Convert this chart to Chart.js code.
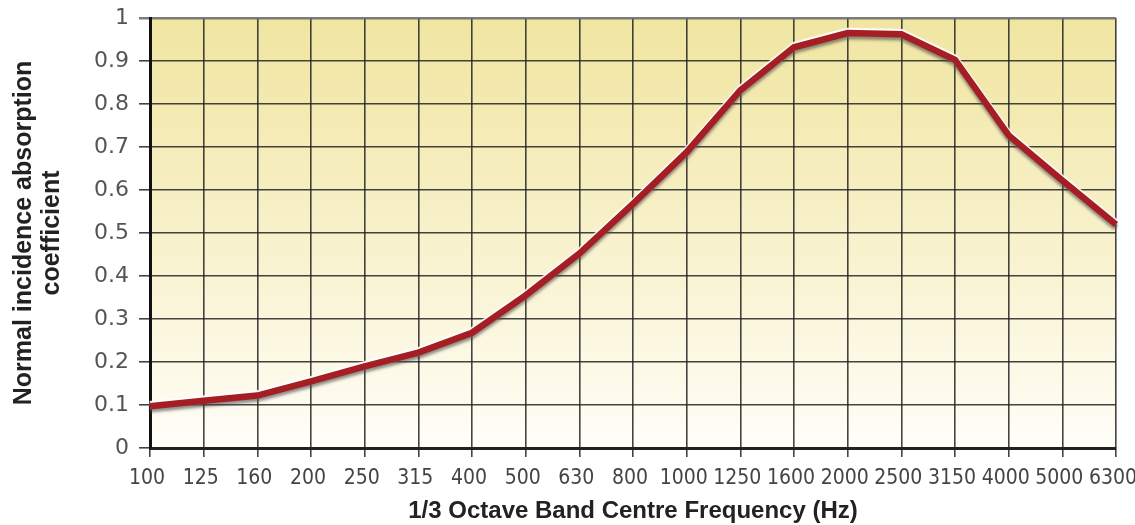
<!DOCTYPE html>
<html>
<head>
<meta charset="utf-8">
<title>Normal incidence absorption coefficient</title>
<script src="https://cdn.jsdelivr.net/npm/chart.js@4/dist/chart.umd.min.js"></script>
<style>
  html, body { margin: 0; padding: 0; background: #fff; }
  #wrap { width: 1135px; height: 525px; position: relative; }
</style>
</head>
<body>
<div id="wrap"><canvas id="absChart"></canvas></div>
<script>
// datos
const frequencies = ['100', '125', '160', '200', '250', '315', '400', '500', '630', '800',
    '1000', '1250', '1600', '2000', '2500', '3150', '4000', '5000', '6300'];
const absorption = [0.097, 0.11, 0.122, 0.155, 0.19, 0.222, 0.268, 0.355, 0.452, 0.568,
    0.688, 0.832, 0.932, 0.965, 0.962, 0.903, 0.727, 0.622, 0.52];
const yTicks = [0, 0.1, 0.2, 0.3, 0.4, 0.5, 0.6, 0.7, 0.8, 0.9, 1];

// fondo degradado amarillo del area de trazado
const plotBackground = {
    id: 'plotBackground',
    beforeDraw(chart) {
        const {ctx, chartArea: a} = chart;
        const g = ctx.createLinearGradient(0, a.top, 0, a.bottom);
        g.addColorStop(0, '#f0e5a0');
        g.addColorStop(0.5, '#f8f1ca');
        g.addColorStop(1, '#fffef8');
        ctx.save();
        ctx.fillStyle = g;
        ctx.fillRect(a.left, a.top, a.right - a.left, a.bottom - a.top);
        ctx.restore();
    }
};

// sombra gris debajo y brillo blanco encima de la curva
const lineShadow = {
    id: 'lineShadow',
    beforeDatasetDraw(chart, args) {
        const ctx = chart.ctx;
        ctx.save();
        if (args.index === 0) {
            ctx.shadowColor = 'rgba(70,70,70,0.6)';
            ctx.shadowOffsetY = 3;
            ctx.shadowBlur = 3;
        } else {
            ctx.shadowColor = 'rgba(255,255,255,1)';
            ctx.shadowOffsetY = -2;
            ctx.shadowBlur = 1;
        }
    },
    afterDatasetDraw(chart) {
        chart.ctx.restore();
    }
};

const ctx = document.getElementById('absChart').getContext('2d');
const absChart = new Chart(ctx, {
    type: 'line',
    data: {
        labels: frequencies,
        datasets: [{
            data: absorption,
            borderColor: '#a41e24',
            borderWidth: 6.5,
            pointRadius: 0,
            tension: 0,
            fill: false
        }, {
            data: absorption,
            borderColor: '#ffffff',
            borderWidth: 6.5,
            pointRadius: 0,
            tension: 0,
            fill: false
        }]
    },
    options: {
        responsive: true,
        maintainAspectRatio: false,
        animation: false,
        layout: {
            padding: 0
        },
        plugins: {
            legend: { display: false },
            tooltip: { enabled: false }
        },
        scales: {
            x: {
                offset: false,
                afterFit(scale) {
                    scale.height = 77;
                    scale.paddingLeft = 0;
                    scale.paddingRight = 19;
                },
                grid: {
                    color: 'rgba(35,35,35,0.85)',
                    lineWidth: 1.6,
                    drawTicks: true,
                    tickLength: 9
                },
                border: { color: '#222', width: 3 },
                ticks: {
                    autoSkip: false,
                    maxRotation: 0,
                    padding: 9,
                    labelOffset: -3,
                    color: '#444',
                    font: { family: "'DejaVu Sans Condensed', sans-serif", size: 21 }
                },
                title: {
                    display: true,
                    text: '1/3 Octave Band Centre Frequency (Hz)',
                    color: '#222',
                    padding: 0,
                    font: { family: "'Liberation Sans', Arial, sans-serif", size: 24, weight: 'bold', lineHeight: 1.1 }
                }
            },
            y: {
                min: 0,
                max: 1,
                afterFit(scale) {
                    scale.width = 150;
                    scale.paddingTop = 18;
                    scale.paddingBottom = 0;
                },
                afterBuildTicks(scale) {
                    scale.ticks = yTicks.map(v => ({ value: v }));
                },
                grid: {
                    color: ctx => ctx.tick && ctx.tick.value === 1 ? 'rgba(110,110,110,0.9)' : 'rgba(35,35,35,0.85)',
                    lineWidth: ctx => ctx.tick && ctx.tick.value === 1 ? 2.5 : 1.6,
                    drawTicks: true,
                    tickLength: 11
                },
                border: { color: '#111', width: 3 },
                ticks: {
                    padding: 10,
                    color: '#555',
                    font: { family: "'DejaVu Sans', sans-serif", size: 22 },
                    callback: v => String(Math.round(v * 10) / 10)
                },
                title: {
                    display: true,
                    text: ['Normal incidence absorption', 'coefficient'],
                    color: '#222',
                    padding: { top: 10, bottom: 0 },
                    font: { family: "'Liberation Sans', Arial, sans-serif", size: 25, weight: 'bold', lineHeight: 1.12 }
                }
            }
        }
    },
    plugins: [plotBackground, lineShadow]
});
</script>
</body>
</html>
